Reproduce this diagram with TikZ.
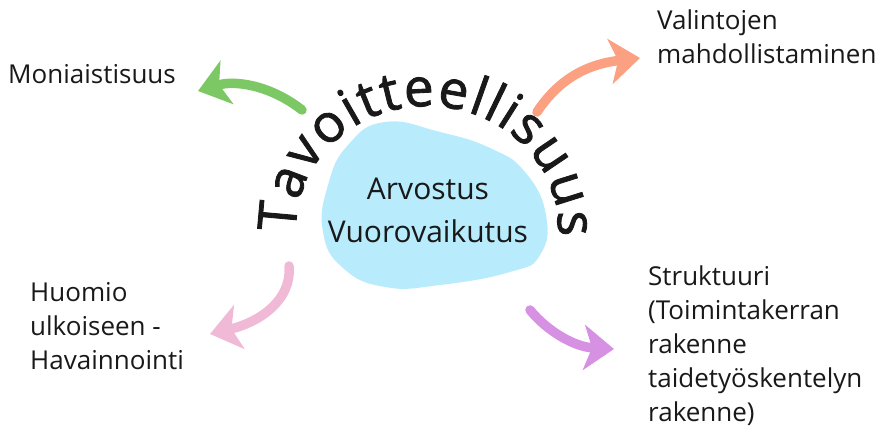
\documentclass[tikz,border=0pt]{standalone}
\usepackage{fontspec}
\setmainfont{Open Sans}
\newfontfamily\arcfam{Open Sans}[FakeBold=1.6]
\usetikzlibrary{arrows.meta,decorations.text}
\definecolor{blobblue}{RGB}{184,236,252}
\definecolor{brushgreen}{RGB}{124,200,100}
\definecolor{brushsalmon}{RGB}{252,160,130}
\definecolor{brushpink}{RGB}{240,186,214}
\definecolor{brushviolet}{RGB}{214,145,226}
\definecolor{ink}{RGB}{25,25,25}
\newcommand{\titlefont}{\arcfam\fontsize{53}{53}\selectfont}
\tikzset{
  lbl/.style={anchor=north west,align=left,inner sep=0pt,text=ink,
    font=\fontsize{26}{34}\selectfont},
  core/.style={anchor=north,align=center,inner sep=0pt,text=ink,
    font=\fontsize{30}{43}\selectfont},
  brush/.style={line width=9.5pt,line cap=round,
    -{Stealth[length=30pt,width=45pt,inset=8pt]}}
}
\begin{document}
\begin{tikzpicture}[x=1pt,y=1pt]
  \useasboundingbox (0,0) rectangle (889,-427);
  % blob in the middle
  \fill[blobblue] plot[smooth cycle,tension=0.8] coordinates {
    (385,-122) (440,-132) (490,-148) (525,-172) (546,-215) (540,-255)
    (510,-272) (440,-285) (385,-287) (343,-268) (323,-232) (328,-185)
    (348,-145)};
  \node[core] (core) at (428,-178) {Arvostus\\Vuorovaikutus};
  % arched title
  \path[decorate,decoration={text along path,text color=ink,
      text={|\titlefont|Tavoitteellisuus},text align=fit to path}]
    (296.1,-232.3) arc[start angle=182,end angle=-4,x radius=131,y radius=122];
  % labels
  \node[lbl,anchor=base west] (moni) at (8,-84) {Moniaistisuus};
  \node[lbl] (vali) at (657,-10) {Valintojen\\mahdollistaminen};
  \node[lbl] (huom) at (30,-282) {Huomio\\ulkoiseen -\\Havainnointi};
  \node[lbl] (stru) at (648,-266) {Struktuuri\\(Toimintakerran\\rakenne\\taidetyöskentelyn\\rakenne)};
  % arrows
  \coordinate (gtail) at (302,-110); \coordinate (gtip) at (198,-91);
  \coordinate (stail) at (537,-112); \coordinate (stip) at (640,-58);
  \coordinate (ptail) at (289,-266); \coordinate (ptip) at (210,-334);
  \coordinate (vtail) at (530,-310); \coordinate (vtip) at (614,-349);
  \draw[brush,brushgreen] (gtail) .. controls (270,-85) and (235,-80) .. (gtip);
  \draw[brush,brushsalmon] (stail) .. controls (555,-85) and (580,-65) .. (stip);
  \draw[brush,brushpink] (ptail) .. controls (292,-300) and (260,-322) .. (ptip);
  \draw[brush,brushviolet] (vtail) .. controls (548,-332) and (575,-347) .. (vtip);
\end{tikzpicture}
\end{document}
